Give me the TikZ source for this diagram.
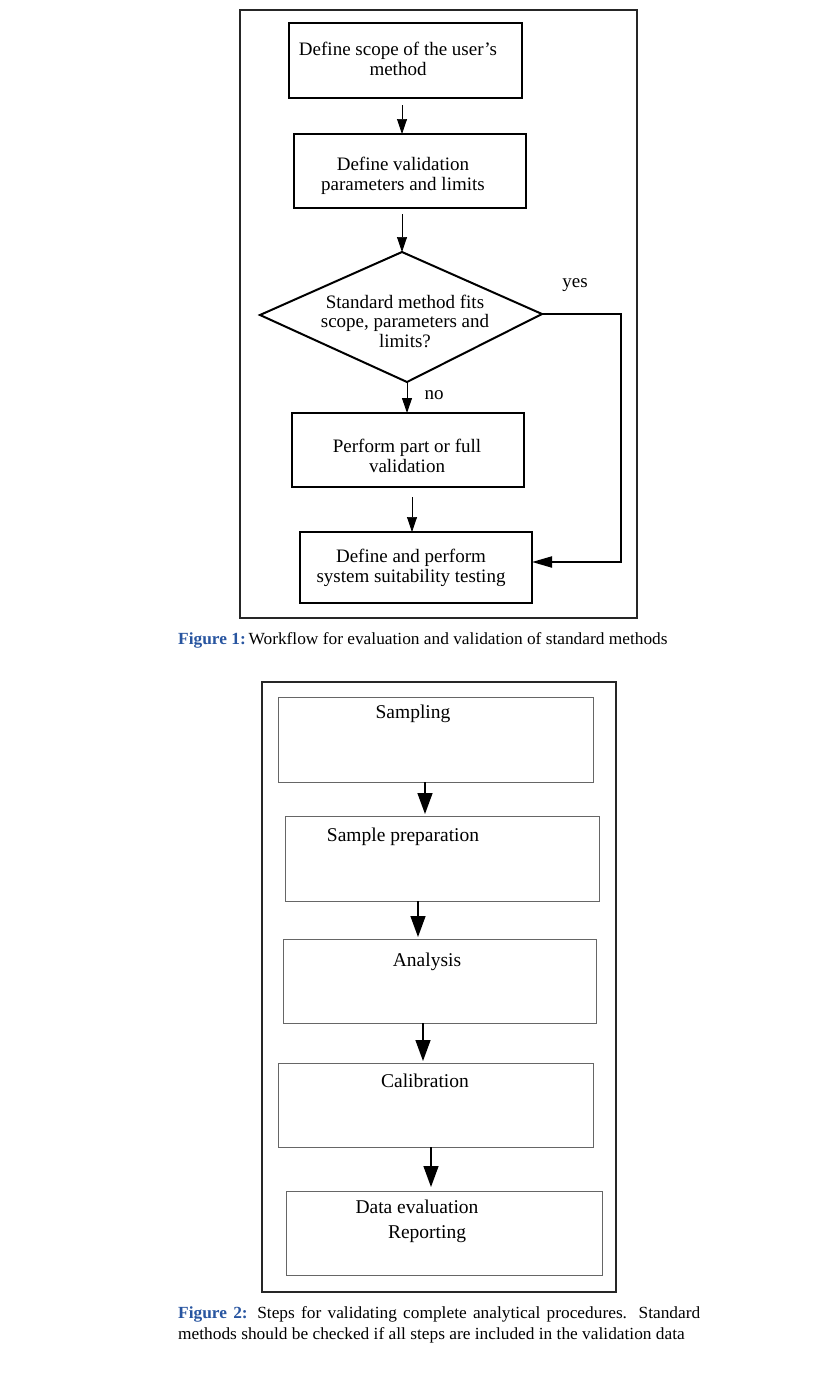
\documentclass[tikz,border=0pt]{standalone}
\usepackage{fontspec}
\setmainfont{Liberation Serif}
\newfontfamily\capfont[FakeStretch=1.02]{Liberation Serif}
\usetikzlibrary{arrows.meta}
\definecolor{capblue}{RGB}{40,85,160}
\begin{document}
\begin{tikzpicture}[x=1pt,y=-1pt,
  frame/.style={draw=black!85, line width=1.1pt, inner sep=0pt, outer sep=0pt},
  boxA/.style={draw, line width=2.2pt, inner sep=0pt, outer sep=0pt},
  boxB/.style={draw=black!60, line width=1pt, inner sep=0pt, outer sep=0pt},
  txtA/.style={font=\fontsize{19}{19.5}\selectfont, align=center, anchor=base, inner sep=0pt},
  txtB/.style={font=\fontsize{19.5}{25}\selectfont, align=center, anchor=base, inner sep=0pt},
  arrA/.style={line width=0.7pt, -{Triangle[length=15pt,width=10pt]}},
  arrB/.style={line width=1.4pt, -{Triangle[length=21pt,width=15pt]}},
  captxt/.style={font=\capfont\fontsize{17}{21}\selectfont, inner sep=0pt, anchor=base west}
]
\useasboundingbox (0,0) rectangle (835,1373);

% ---------- Figure 1 ----------
\node[frame, minimum width=397pt, minimum height=608pt] (f1) at (438.5,314) {};
\node[boxA, minimum width=233pt, minimum height=75pt] (b1) at (405.5,60.5) {};
\node[boxA, minimum width=232pt, minimum height=74pt] (b2) at (410,171) {};
\node[boxA, minimum width=232pt, minimum height=74pt] (b3) at (408,450) {};
\node[boxA, minimum width=232pt, minimum height=71pt] (b5) at (416,567.5) {};

\node[txtA] (t1) at (398,75) {Define scope of the user's\\method};
\node[txtA] (t2) at (403,190) {Define validation\\parameters and limits};
\node[txtA] (t3) at (407,472) {Perform part or full\\validation};
\node[txtA] (t5) at (411,582) {Define and perform\\system suitability testing};

\coordinate (dT) at (402,252);
\coordinate (dR) at (542,314);
\coordinate (dB) at (407,382);
\coordinate (dL) at (260,315);
\draw[line width=2pt, line join=miter] (dT) -- (dR) -- (dB) -- (dL) -- cycle;
\node[txtA] (tq) at (405,347) {Standard method fits\\scope, parameters and\\limits?};

\node[txtA] (yes) at (575,287) {yes};
\node[txtA] (no) at (434,399) {no};

\coordinate (a1) at (402,0);
\coordinate (a3) at (412,0);
\draw[arrA, shorten <=7pt] (b1.south -| a1) -- (b2.north -| a1);
\draw[arrA, shorten <=6pt] (b2.south -| a1) -- (dT);
\draw[arrA, line width=1pt] (dB) -- (b3.north -| dB);
\draw[arrA, shorten <=10pt] (b3.south -| a3) -- (b5.north -| a3);

\coordinate (yc) at (621,314);
\coordinate (yb) at (621,562);
\draw[line width=2pt, -{Triangle[length=20pt,width=11pt]}] (dR) -- (yc) -- (yb) -- (yb -| b5.east);

\node[captxt] (c1) at (178,644) {\textcolor{capblue}{\textbf{Figure 1:}}\,Workflow for evaluation and validation of standard methods};

% ---------- Figure 2 ----------
\node[frame, minimum width=354pt, minimum height=610pt] (f2) at (439,987) {};
\node[boxB, minimum width=315pt, minimum height=85pt] (s1) at (435.5,739.5) {};
\node[boxB, minimum width=314pt, minimum height=85pt] (s2) at (442,858.5) {};
\node[boxB, minimum width=313pt, minimum height=84pt] (s3) at (439.5,981) {};
\node[boxB, minimum width=315pt, minimum height=84pt] (s4) at (435.5,1105) {};
\node[boxB, minimum width=316pt, minimum height=84pt] (s5) at (444,1233) {};

\node[txtB] (u1) at (413,718) {Sampling};
\node[txtB] (u2) at (403,841) {Sample preparation};
\node[txtB] (u3) at (427,966) {Analysis};
\node[txtB] (u4) at (425,1087) {Calibration};
\node[txtB] (u5) at (417,1213) {Data evaluation};
\node[txtB] (u6) at (427,1238) {Reporting};

\coordinate (e1) at (425,0);
\coordinate (e2) at (418,0);
\coordinate (e3) at (423,0);
\coordinate (e4) at (431,0);
\draw[arrB, shorten >=2pt] (s1.south -| e1) -- (s2.north -| e1);
\draw[arrB, shorten >=2pt] (s2.south -| e2) -- (s3.north -| e2);
\draw[arrB, shorten >=2pt] (s3.south -| e3) -- (s4.north -| e3);
\draw[arrB, shorten >=4pt] (s4.south -| e4) -- (s5.north -| e4);

\node[captxt, text width=522pt, align=justify] (c2) at (178,1318) {\textcolor{capblue}{\textbf{Figure 2:}} Steps for validating complete analytical procedures. Standard\linebreak methods should be checked if all steps are included in the validation data};
\end{tikzpicture}
\end{document}
